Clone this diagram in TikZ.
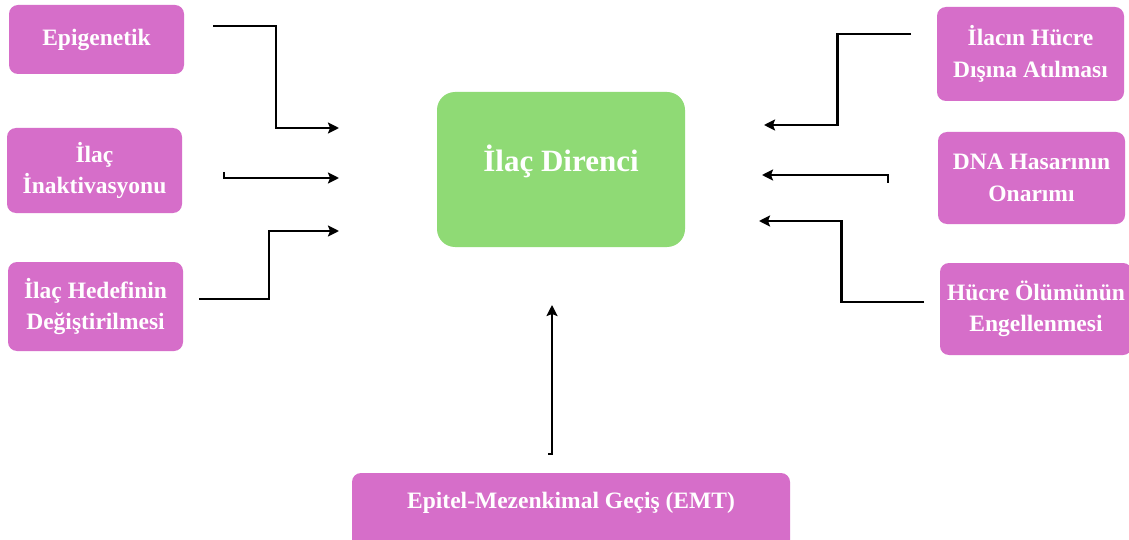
\documentclass[tikz,border=0pt]{standalone}
\usepackage{fontspec}
\setmainfont{Liberation Serif}
\usetikzlibrary{arrows.meta,calc}
\definecolor{pinkbox}{RGB}{214,110,201}
\definecolor{greenbox}{RGB}{143,218,117}
\tikzset{
  sbox/.style={draw=none,fill=pinkbox,rounded corners=9pt,inner sep=0pt,
    text=white,font=\bfseries\fontsize{23.5}{31.5}\selectfont,align=center},
  cbox/.style={draw=none,fill=greenbox,rounded corners=18pt,inner sep=0pt,
    minimum width=248pt,minimum height=155pt},
  ctext/.style={text=white,font=\bfseries\fontsize{31}{36}\selectfont,inner sep=0pt},
  arr/.style={line width=2.4pt,line join=miter,-{Stealth[length=11pt,width=11pt,inset=2pt]}}
}
\begin{document}
\begin{tikzpicture}[x=1pt,y=-1pt]
\clip (0,0) rectangle (1129,540);
\fill[white] (0,0) rectangle (1129,540);
% left boxes
\node[sbox,minimum width=175pt,minimum height=69pt] (epi) at (96.5,39.5) {Epigenetik};
\node[sbox,minimum width=175pt,minimum height=85pt] (inak) at (94.5,170.5) {İlaç\\İnaktivasyonu};
\node[sbox,minimum width=175pt,minimum height=89pt] (hedef) at (95.5,306.5) {İlaç Hedefinin\\Değiştirilmesi};
% right boxes
\node[sbox,minimum width=187pt,minimum height=94pt] (atil) at (1030.5,54) {İlacın Hücre\\Dışına Atılması};
\node[sbox,minimum width=187pt,minimum height=92pt] (dna) at (1031.5,178) {DNA Hasarının\\Onarımı};
\node[sbox,minimum width=192pt,minimum height=92pt] (olum) at (1036,309) {Hücre Ölümünün\\Engellenmesi};
% center
\node[cbox] (dir) at (561,169.5) {};
\node[ctext] (dirtext) at ($(dir.center)+(0,-8)$) {İlaç Direnci};
% bottom
\node[sbox,minimum width=438pt,minimum height=76pt] (emt) at (571,511) {};
\node[text=white,font=\bfseries\fontsize{23.5}{31.5}\selectfont,inner sep=0pt] (emttext) at (571,503) {Epitel-Mezenkimal Geçiş (EMT)};
% connector end points
\coordinate (a1s) at (213,26);  \coordinate (a1e) at (339,128);
\coordinate (a2s) at (224,172); \coordinate (a2e) at (339,178);
\coordinate (a3s) at (199,299); \coordinate (a3e) at (339,231);
\coordinate (b1s) at (911,34);  \coordinate (b1e) at (764,125);
\coordinate (b2s) at (888,183); \coordinate (b2e) at (762,175);
\coordinate (b3s) at (924,302); \coordinate (b3e) at (759,221);
\coordinate (cs) at (548,454);  \coordinate (ce) at (552,305);
% connectors
\draw[arr] (a1s) -| ($(a1s)!.5!(a1e)$) |- (a1e);
\draw[arr] (a2s) |- (a2e);
\draw[arr] (a3s) -| ($(a3s)!.5!(a3e)$) |- (a3e);
\draw[arr] (b1s) -| ($(b1s)!.5!(b1e)$) |- (b1e);
\draw[arr] (b2s) |- (b2e);
\draw[arr] (b3s) -| ($(b3s)!.5!(b3e)$) |- (b3e);
\draw[arr] (cs) -| (ce);
\end{tikzpicture}
\end{document}
